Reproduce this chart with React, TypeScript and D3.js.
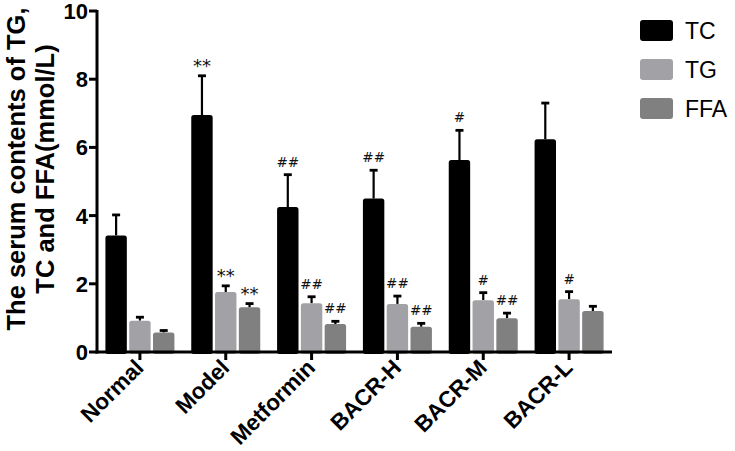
import React from 'react';
import * as d3 from 'd3';

const groups = ['Normal', 'Model', 'Metformin', 'BACR-H', 'BACR-M', 'BACR-L'];
const seriesNames = ['TC', 'TG', 'FFA'];
const seriesColors = ['#000000', '#a2a2a6', '#808080'];
// mean values per series, one entry per group
const tcMean = [3.42, 6.95, 4.25, 4.5, 5.63, 6.24];
const tgMean = [0.92, 1.76, 1.43, 1.41, 1.52, 1.55];
const ffaMean = [0.57, 1.31, 0.82, 0.74, 0.99, 1.2];
// upper error (SD)
const tcErr = [0.6, 1.15, 0.95, 0.83, 0.87, 1.06];
const tgErr = [0.1, 0.18, 0.19, 0.23, 0.22, 0.22];
const ffaErr = [0.06, 0.11, 0.08, 0.1, 0.15, 0.14];
// significance marks
const tcMarks = ['', '**', '##', '##', '#', ''];
const tgMarks = ['', '**', '##', '##', '#', '#'];
const ffaMarks = ['', '**', '##', '##', '##', ''];
const yTicks = [0, 2, 4, 6, 8, 10];

const means = [tcMean, tgMean, ffaMean];
const errs = [tcErr, tgErr, ffaErr];
const marks = [tcMarks, tgMarks, ffaMarks];

const W = 735;
const H = 451;
const margin = { left: 97, right: 123, top: 11, bottom: 99 };

const App = () => {
  const plotW = W - margin.left - margin.right;
  const plotH = H - margin.top - margin.bottom;

  const x = d3.scaleBand().domain(groups).range([0, plotW]);
  const xs = d3.scaleBand().domain(seriesNames).range([0, 69]).paddingInner(0.1);
  const y = d3.scaleLinear().domain([0, 10]).range([plotH, 0]);

  const font = 'Arial, "Liberation Sans", sans-serif';

  return (
    <svg width={W} height={H} style={{ position: 'absolute', left: 0, top: 0 }} fontFamily={font}>
      <g transform={`translate(${margin.left},${margin.top})`}>
        {groups.map((g, gi) => {
          const gx = (x(g) as number) + x.bandwidth() / 2 - 34.5;
          return (
            <g key={g} transform={`translate(${gx},0)`}>
              {seriesNames.map((s, si) => {
                const bx = xs(s) as number;
                const bw = xs.bandwidth();
                const top = y(means[si][gi]);
                const errTop = y(means[si][gi] + errs[si][gi]);
                const cx = bx + bw / 2;
                const m = marks[si][gi];
                return (
                  <g key={s}>
                    <line x1={cx} x2={cx} y1={top} y2={errTop} stroke="#000" strokeWidth={2.2} />
                    <line x1={cx - 4} x2={cx + 4} y1={errTop} y2={errTop} stroke="#000" strokeWidth={2.8} />
                    <rect x={bx} y={top} width={bw} height={plotH - top + 2} rx={2.5} fill={seriesColors[si]} />
                    {m && (
                      <text
                        x={cx}
                        y={errTop - (m.startsWith('*') ? 4 : 8)}
                        textAnchor="middle"
                        fontSize={m.startsWith('*') ? 18 : 13.5}
                        fontFamily='"DejaVu Sans", sans-serif'
                        fill="#111"
                      >
                        {m}
                      </text>
                    )}
                  </g>
                );
              })}
            </g>
          );
        })}

        {/* y axis */}
        <line x1={0} x2={0} y1={-1} y2={plotH + 1.5} stroke="#000" strokeWidth={3} />
        {yTicks.map((t) => (
          <g key={t} transform={`translate(0,${y(t)})`}>
            <line x1={-8} x2={0} stroke="#000" strokeWidth={3} />
            <text x={-9} dy="0.36em" textAnchor="end" fontSize={22} fontWeight="bold">
              {t}
            </text>
          </g>
        ))}

        {/* x axis */}
        <line x1={-1.5} x2={plotW} y1={plotH} y2={plotH} stroke="#000" strokeWidth={3} />
        {groups.map((g) => {
          const cx = (x(g) as number) + x.bandwidth() / 2;
          return (
            <g key={g} transform={`translate(${cx},${plotH})`}>
              <line y1={0} y2={8} stroke="#000" strokeWidth={3} />
              <text
                transform="translate(5,17) rotate(-45)"
                textAnchor="end"
                fontSize={22.5}
                fontWeight="bold"
              >
                {g}
              </text>
            </g>
          );
        })}
      </g>

      {/* y title */}
      <text transform="translate(25,169) rotate(-90)" textAnchor="middle" fontSize={25.5} fontWeight="bold">
        <tspan x={0} dy={0}>The serum contents of TG,</tspan>
        <tspan x={0} dy={29}>TC and FFA(mmol/L)</tspan>
      </text>

      {/* legend */}
      {seriesNames.map((s, i) => (
        <g key={s} transform={`translate(640,${20 + i * 39})`}>
          <rect width={33} height={21} rx={3} fill={seriesColors[i]} />
          <text x={45} y={19} fontSize={23}>
            {s}
          </text>
        </g>
      ))}
    </svg>
  );
};

export default App;
